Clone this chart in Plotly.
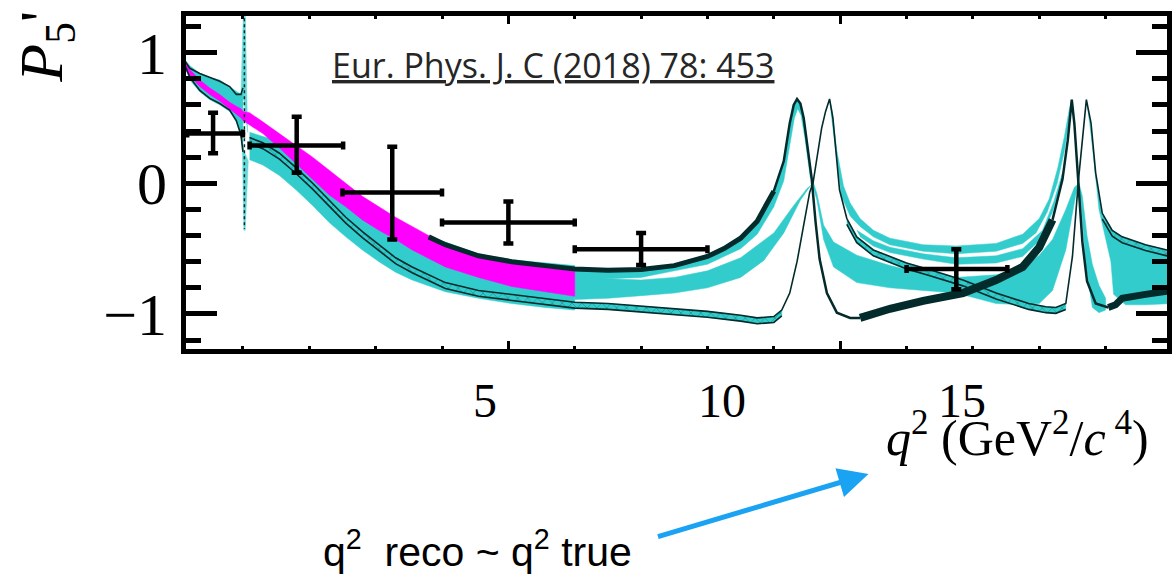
import plotly.graph_objects as go

# ---------------------------------------------------------------------------
# Colours
CYAN = "#33CCCC"
DARK = "#032b2b"
MAGENTA = "#FF00FF"

# ---------------------------------------------------------------------------
# Measured P5' bins (q^2 in GeV^2/c^4)
BIN_CENTER = [0.55, 1.81, 3.25, 5.00, 7.00, 11.75]
BIN_LO = [0.16, 1.10, 2.50, 4.00, 6.00, 11.00]
BIN_HI = [1.00, 2.51, 4.00, 6.00, 8.00, 12.52]
P5_VAL = [0.38, 0.29, -0.07, -0.30, -0.505, -0.655]
P5_HI = [0.54, 0.51, 0.28, -0.14, -0.38, -0.505]
P5_LO = [0.23, 0.08, -0.43, -0.46, -0.625, -0.81]

# ---------------------------------------------------------------------------
# Predictions below the phi resonance
Q_PRE = [0.12, 0.20, 0.35, 0.50, 0.65, 0.80, 0.90, 0.97, 1.00]
PRE_UP = [0.95, 0.90, 0.84, 0.81, 0.79, 0.74, 0.70, 0.68, 0.69]
PRE_LO = [0.90, 0.79, 0.70, 0.64, 0.60, 0.55, 0.47, 0.37, 0.26]
PRE_LINE1 = [0.94, 0.88, 0.84, 0.81, 0.78, 0.74, 0.68, 0.68, 0.73]
PRE_LINE2 = [0.91, 0.81, 0.71, 0.65, 0.61, 0.56, 0.48, 0.37, 0.24]
MAG_PRE_UP = [0.94, 0.87, 0.79, 0.73, 0.68, 0.62, 0.59, 0.57, 0.55]
MAG_PRE_LO = [0.88, 0.82, 0.74, 0.68, 0.63, 0.57, 0.53, 0.50, 0.48]

# phi spikes (closed outlines)
PHI_UP_Q = [0.97, 1.012, 1.032, 1.07, 1.02]
PHI_UP_Y = [0.69, 1.40, 1.40, 0.39, 0.62]
PHI_DN_Q = [0.99, 1.014, 1.034, 1.08, 1.04]
PHI_DN_Y = [0.30, -0.36, -0.36, 0.17, 0.22]

# between phi and 6 GeV^2
Q_MID = [1.10, 1.30, 1.55, 1.80, 2.05, 2.30, 2.55, 2.80, 3.05, 3.30, 3.55,
         4.05, 4.55, 5.05, 5.55, 6.00]
ENV_UP = [0.39, 0.36, 0.32, 0.26, 0.18, 0.08, -0.03, -0.11, -0.20, -0.29, -0.36,
          -0.45, -0.54, -0.585, -0.61, -0.63]
ENV_LO = [0.18, 0.14, 0.06, -0.05, -0.17, -0.30, -0.41, -0.51, -0.60, -0.68, -0.74,
          -0.83, -0.88, -0.92, -0.95, -0.97]
MAG_UP = [0.54, 0.47, 0.38, 0.29, 0.20, 0.10, 0.00, -0.10, -0.18, -0.26, -0.33,
          -0.47, -0.56, -0.61, -0.645, -0.675]
MAG_LO = [0.45, 0.38, 0.27, 0.15, 0.03, -0.09, -0.18, -0.28, -0.36, -0.43, -0.51,
          -0.64, -0.72, -0.79, -0.83, -0.865]

# hatched prediction (dip-left / peak-right at each charmonium)
Q_B = [1.10, 1.30, 1.55, 1.80, 2.05, 2.30, 2.55, 2.80, 3.05, 3.30, 3.55, 4.05,
       4.55, 5.05, 5.55, 6.00, 6.50, 7.00, 7.50, 8.00, 8.50, 8.75, 9.00, 9.12,
       9.24, 9.35, 9.45, 9.54, 9.59, 9.66, 9.72, 9.78, 9.84, 9.89, 9.94, 9.99,
       10.10, 10.25, 10.50, 10.74, 11.00, 11.34, 11.85, 12.35, 12.84, 13.10,
       13.25, 13.40, 13.50, 13.59, 13.66, 13.71, 13.78, 13.85, 13.95, 14.10,
       14.25, 14.60, 15.00]
B_Y = [0.35, 0.31, 0.23, 0.12, 0.00, -0.13, -0.26, -0.37, -0.47, -0.57, -0.64,
       -0.76, -0.82, -0.85, -0.88, -0.91, -0.92, -0.94, -0.96, -0.98, -1.01,
       -1.03, -1.02, -0.97, -0.84, -0.60, -0.32, -0.07, 0.00, 0.24, 0.42, 0.55,
       0.645, 0.50, 0.22, -0.05, -0.27, -0.41, -0.51, -0.56, -0.61, -0.66,
       -0.74, -0.84, -0.92, -0.945, -0.95, -0.92, -0.56, 0.02, 0.38, 0.64, 0.46,
       0.08, -0.23, -0.36, -0.41, -0.47, -0.52]
B_WIDTH = 0.045
HATCH_SPANS = [(1.10, 9.12), (10.10, 13.40), (13.95, 15.00)]

# dark prediction (peak-left / dip-right at each charmonium)
Q_A = [3.80, 4.05, 4.55, 5.05, 5.55, 6.00, 6.50, 7.00, 7.50, 8.00, 8.25, 8.50,
       8.75, 9.00, 9.15, 9.24, 9.30, 9.35, 9.40, 9.45, 9.50, 9.57, 9.63, 9.69,
       9.80, 9.95, 10.15, 10.30, 10.75, 11.25, 11.85, 12.35, 12.75, 13.00, 13.20,
       13.35, 13.43, 13.49, 13.53, 13.56, 13.59, 13.65, 13.72, 13.85, 14.04,
       14.15, 14.25, 14.34, 14.60, 15.00]
A_Y = [-0.41, -0.47, -0.555, -0.60, -0.63, -0.655, -0.665, -0.66, -0.63, -0.56,
       -0.50, -0.42, -0.29, -0.06, 0.17, 0.46, 0.60, 0.645, 0.61, 0.50, 0.32,
       0.04, -0.30, -0.58, -0.84, -0.99, -1.03, -1.03, -0.96, -0.90, -0.84,
       -0.74, -0.64, -0.49, -0.28, 0.03, 0.33, 0.64, 0.45, 0.22, 0.00, -0.45,
       -0.75, -0.92, -0.95, -0.93, -0.88, -0.87, -0.85, -0.82]

# cyan band under the dark prediction (left J/psi peak)
Q_AB_IN = [6.00, 6.50, 7.00, 7.50, 8.00, 8.50, 8.75, 9.00, 9.15, 9.24, 9.31,
           9.36, 9.41, 9.47, 9.55]
AB_IN = [-0.74, -0.73, -0.72, -0.67, -0.62, -0.50, -0.39, -0.18, 0.02, 0.28,
         0.50, 0.57, 0.52, 0.34, 0.04]

# band with the small peak at the resonance centre
Q_C_UP = [6.00, 6.50, 7.00, 7.50, 8.00, 8.50, 9.00, 9.30, 9.50, 9.60, 9.65, 9.75,
          9.90, 10.25, 10.75, 11.25, 11.75, 12.35, 12.75, 13.00, 13.20, 13.40,
          13.53, 13.60]
C_UP = [-0.72, -0.73, -0.74, -0.72, -0.67, -0.57, -0.38, -0.17, -0.04, 0.00,
        -0.08, -0.32, -0.45, -0.55, -0.63, -0.69, -0.72, -0.70, -0.65, -0.55,
        -0.43, -0.20, -0.03, 0.00]
Q_C_LO = [6.00, 6.50, 7.00, 7.50, 8.00, 8.50, 8.85, 9.15, 9.40, 9.55, 9.58, 9.65,
          9.75, 9.90, 10.25, 10.75, 11.25, 11.75, 12.35, 12.75, 13.00, 13.20,
          13.40, 13.55]
C_LO = [-0.89, -0.88, -0.86, -0.84, -0.80, -0.72, -0.59, -0.38, -0.13, -0.02,
        -0.01, -0.13, -0.43, -0.64, -0.76, -0.80, -0.82, -0.84, -0.92, -0.93,
        -0.92, -0.82, -0.51, -0.09]
Q_C2 = [13.56, 13.60, 13.65, 13.72, 13.80, 13.90, 14.00, 14.00, 13.90, 13.80,
        13.70, 13.63]
C2_Y = [-0.03, 0.00, -0.10, -0.40, -0.62, -0.78, -0.88, -0.97, -0.99, -0.95,
        -0.62, -0.15]

# bands running from the right J/psi peak to the left psi(2S) peak
Q_D1_UP = [9.84, 9.88, 9.95, 10.05, 10.15, 10.30, 10.50, 10.75, 11.25, 11.75,
           12.35, 12.75, 13.00, 13.15, 13.28, 13.38, 13.45, 13.49]
D1_UP = [0.645, 0.55, 0.25, -0.02, -0.15, -0.27, -0.36, -0.42, -0.47, -0.48,
         -0.46, -0.39, -0.27, -0.12, 0.12, 0.36, 0.56, 0.64]
Q_D1_LO = [9.86, 9.92, 10.02, 10.15, 10.30, 10.50, 10.75, 11.25, 11.75, 12.35,
           12.75, 12.95, 13.12, 13.27, 13.38, 13.46]
D1_LO = [0.55, 0.30, -0.10, -0.25, -0.33, -0.41, -0.47, -0.52, -0.54, -0.52,
         -0.46, -0.38, -0.22, 0.00, 0.25, 0.52]
Q_D2_UP = [10.25, 10.50, 10.75, 11.25, 11.75, 12.35, 12.75, 13.05, 13.22, 13.35]
D2_UP = [-0.36, -0.44, -0.49, -0.54, -0.57, -0.555, -0.50, -0.36, -0.14, 0.08]
Q_D2_LO = [10.30, 10.50, 10.75, 11.25, 11.75, 12.35, 12.75, 13.00, 13.20, 13.33]
D2_LO = [-0.41, -0.48, -0.53, -0.58, -0.62, -0.61, -0.56, -0.44, -0.22, 0.00]

# spread of predictions above psi(2S)
Q_E_UP = [13.71, 13.78, 13.85, 13.95, 14.10, 14.25, 14.60, 15.00]
E_UP = [0.64, 0.40, 0.05, -0.26, -0.40, -0.45, -0.51, -0.56]
Q_E_LO = [13.74, 13.82, 13.90, 14.00, 14.08, 14.12, 14.30, 14.60, 15.00]
E_LO = [0.55, 0.20, -0.20, -0.42, -0.60, -0.85, -0.93, -0.93, -0.92]

# axis ranges
X_RANGE = [0.142, 14.925]
Y_RANGE = [-1.268, 1.280]

fig = go.Figure()


def polygon(xs, ys, color, opacity=1.0, **extra):
    fig.add_trace(go.Scatter(
        x=xs, y=ys, mode="lines", fill="toself", fillcolor=color,
        line=dict(width=0.5, color=color), opacity=opacity,
        hoverinfo="skip", showlegend=False, **extra))


def band(q_up, y_up, q_lo, y_lo, color, **extra):
    polygon(list(q_up) + list(q_lo)[::-1], list(y_up) + list(y_lo)[::-1], color, **extra)


def line(xs, ys, width, color=DARK, dash=None):
    fig.add_trace(go.Scatter(
        x=xs, y=ys, mode="lines", line=dict(width=width, color=color, dash=dash),
        hoverinfo="skip", showlegend=False))


def span(qs, ys, lo, hi):
    pts = [(q, y) for q, y in zip(qs, ys) if lo - 1e-9 <= q <= hi + 1e-9]
    return [p[0] for p in pts], [p[1] for p in pts]


# cyan prediction bands
band(Q_PRE, PRE_UP, Q_PRE, PRE_LO, CYAN)
polygon(PHI_UP_Q, PHI_UP_Y, CYAN, opacity=0.75)
polygon(PHI_DN_Q, PHI_DN_Y, CYAN, opacity=0.75)
band(Q_MID, ENV_UP, Q_MID, ENV_LO, CYAN)
qa, ya = span(Q_A, A_Y, 6.0, 9.57)
band(qa, ya, Q_AB_IN, AB_IN, CYAN)
band(Q_C_UP, C_UP, Q_C_LO, C_LO, CYAN)
polygon(Q_C2, C2_Y, CYAN)
band(Q_D1_UP, D1_UP, Q_D1_LO, D1_LO, CYAN)
band(Q_D2_UP, D2_UP, Q_D2_LO, D2_LO, CYAN)
band(Q_E_UP, E_UP, Q_E_LO, E_LO, CYAN)

# magenta band
band(Q_PRE + Q_MID, MAG_PRE_UP + MAG_UP, Q_PRE + Q_MID, MAG_PRE_LO + MAG_LO, MAGENTA)

# hatched band
B_LOW = [y - B_WIDTH for y in B_Y]
for lo, hi in HATCH_SPANS:
    qs, yu = span(Q_B, B_Y, lo, hi)
    _, yl = span(Q_B, B_LOW, lo, hi)
    band(qs, yu, qs, yl, CYAN,
         fillpattern=dict(shape="x", fgcolor=DARK, bgcolor=CYAN, size=7, solidity=0.15))
    line(qs, yl, 1.6)
line(Q_B, B_Y, 1.6)

# dark outlines below phi and the dotted resonance line
line(Q_PRE, PRE_LINE1, 1.6)
line(Q_PRE, PRE_LINE2, 1.6)
line([1.022, 1.022], [1.40, -0.35], 1.5, dash="dot")

# dark prediction, thickness varying along q^2
for lo, hi, w in [(3.8, 9.0, 5), (9.0, 10.3, 2.5), (10.3, 13.2, 8),
                  (13.2, 14.04, 2.5), (14.04, 15.0, 7)]:
    qs, ys = span(Q_A, A_Y, lo, hi)
    line(qs, ys, w)

# data points
fig.add_trace(go.Scatter(
    x=BIN_CENTER, y=P5_VAL, mode="markers",
    marker=dict(size=2, color="black"),
    error_x=dict(type="data", symmetric=False,
                 array=[h - c for h, c in zip(BIN_HI, BIN_CENTER)],
                 arrayminus=[c - l for c, l in zip(BIN_CENTER, BIN_LO)],
                 thickness=4.5, width=4, color="black"),
    error_y=dict(type="data", symmetric=False,
                 array=[h - v for h, v in zip(P5_HI, P5_VAL)],
                 arrayminus=[v - l for v, l in zip(P5_VAL, P5_LO)],
                 thickness=4.5, width=5, color="black"),
    hoverinfo="skip", showlegend=False))

SERIF = "Liberation Serif"

fig.update_layout(
    width=1176, height=576,
    margin=dict(l=186, r=4, t=16, b=227, pad=0),
    paper_bgcolor="white", plot_bgcolor="white",
    showlegend=False,
)
fig.update_xaxes(
    range=X_RANGE, showline=True, linecolor="black", linewidth=5, mirror="ticks",
    ticks="inside", ticklen=8, tickwidth=3, tickcolor="black", tick0=0, dtick=5,
    showticklabels=False, showgrid=False, zeroline=False,
    minor=dict(ticks="inside", ticklen=3, tickwidth=3, tickcolor="black",
               tick0=0, dtick=1, showgrid=False),
)
fig.update_yaxes(
    range=Y_RANGE, showline=True, linecolor="black", linewidth=5, mirror="ticks",
    ticks="inside", ticklen=31, tickwidth=5, tickcolor="black", tick0=0, dtick=1,
    tickfont=dict(family=SERIF, size=60, color="black"), ticklabelstandoff=2,
    showgrid=False, zeroline=False,
    minor=dict(ticks="inside", ticklen=15, tickwidth=5, tickcolor="black",
               tick0=0, dtick=0.2, showgrid=False),
)

annotations = [
    dict(x=0.3053, y=-0.156, text="5", font=dict(family=SERIF, size=48, color="black")),
    dict(x=0.5467, y=-0.156, text="10", font=dict(family=SERIF, size=48, color="black")),
    dict(x=0.7911, y=-0.156, text="15", font=dict(family=SERIF, size=48, color="black")),
    dict(x=0.8479, y=-0.258,
         text="<i>q</i><sup>2</sup> (GeV<sup>2</sup>/<i>c</i><sup> 4</sup>)",
         font=dict(family=SERIF, size=50, color="black")),
    dict(x=-0.143, y=0.907, text="<i>P</i><sub>5</sub>'", textangle=-90,
         font=dict(family=SERIF, size=62, color="black")),
    dict(x=0.3742, y=0.852, text="Eur. Phys. J. C (2018) 78: 453",
         font=dict(family="Open Sans", size=34, color="#262626", lineposition="under")),
    dict(x=0.2972, y=-0.600, text="q<sup>2</sup>\u00a0 reco ~ q<sup>2</sup> true",
         font=dict(family="Liberation Sans", size=41, color="black")),
]
for a in annotations:
    fig.add_annotation(xref="paper", yref="paper", showarrow=False,
                       xanchor="center", yanchor="middle", **a)

fig.add_annotation(xref="paper", yref="paper", x=0.6957, y=-0.3754, text="",
                   showarrow=True, ax=-212, ay=63, arrowcolor="#1AA3F2",
                   arrowwidth=5, arrowhead=2, arrowsize=1.2, standoff=0)

fig.write_html("out.html")
